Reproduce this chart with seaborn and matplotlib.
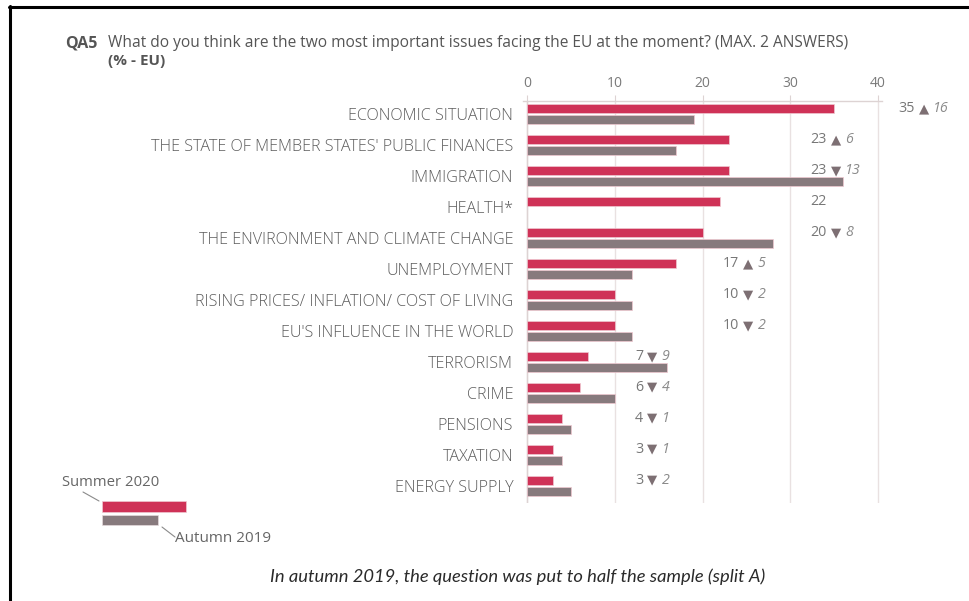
import numpy as np
import pandas as pd
import matplotlib
matplotlib.use("Agg")
import matplotlib.pyplot as plt
from matplotlib.lines import Line2D
from matplotlib.patches import Rectangle
import seaborn as sns

# ---------------- data ----------------
categories = [
    "ECONOMIC SITUATION",
    "THE STATE OF MEMBER STATES' PUBLIC FINANCES",
    "IMMIGRATION",
    "HEALTH*",
    "THE ENVIRONMENT AND CLIMATE CHANGE",
    "UNEMPLOYMENT",
    "RISING PRICES/ INFLATION/ COST OF LIVING",
    "EU'S INFLUENCE IN THE WORLD",
    "TERRORISM",
    "CRIME",
    "PENSIONS",
    "TAXATION",
    "ENERGY SUPPLY",
]
summer_2020 = [35, 23, 23, 22, 20, 17, 10, 10, 7, 6, 4, 3, 3]
autumn_2019 = [19, 17, 36, np.nan, 28, 12, 12, 12, 16, 10, 5, 4, 5]
diff_dir = ["up", "up", "down", None, "down", "up", "down", "down", "down", "down", "down", "down", "down"]
diff_val = [16, 6, 13, None, 8, 5, 2, 2, 9, 4, 1, 1, 2]
x_ticks = [0, 10, 20, 30, 40]
series_names = ["Summer 2020", "Autumn 2019"]

RED = "#cf3257"
GREY = "#877a7d"
TXT = "#5c5c5c"
GRID = "#e9e1e1"

df = pd.DataFrame({
    "category": categories * 2,
    "period": [series_names[0]] * len(categories) + [series_names[1]] * len(categories),
    "value": list(summer_2020) + list(autumn_2019),
})

sns.set_theme(style="white")
plt.rcParams["font.family"] = ["Open Sans", "DejaVu Sans"]

W, H = 969, 601
fig = plt.figure(figsize=(W / 100, H / 100), dpi=100)

def fx(x):
    return x / W

def fy(y):
    return 1 - y / H

# axes: x=0 at px 527, x=40 at px 878 ; top px 101, bottom px 503
ppu = (878 - 527) / 40.0
xl0, xl1 = -0.5, 40.5
left_px = 527 + xl0 * ppu
right_px = 527 + xl1 * ppu
top_px, bot_px = 101, 503
ax = fig.add_axes([fx(left_px), fy(bot_px), (right_px - left_px) / W, (bot_px - top_px) / H])

sns.barplot(data=df, y="category", x="value", hue="period", orient="h",
            hue_order=series_names, palette={series_names[0]: RED, series_names[1]: GREY},
            width=0.7, gap=0.2, errorbar=None, ax=ax, legend=False, saturation=1,
            edgecolor="#f0c8d1", linewidth=0.5, zorder=3)

step = 30.98
c0 = 114.0
ax.set_xlim(xl0, xl1)
ax.set_ylim(12 + (bot_px - (c0 + 12 * step)) / step, -(c0 - top_px) / step)

ax.set_xticks(x_ticks)
ax.set_xticklabels([str(t) for t in x_ticks])
ax.xaxis.tick_top()
ax.tick_params(axis="x", top=True, bottom=False, length=4, width=0.8, color="#ddd3d3",
               pad=3.5, labelsize=10, labelcolor="#7a7a7a")
ax.tick_params(axis="y", left=False, pad=0.8, labelsize=11.6, labelcolor=TXT)
for lab in ax.get_yticklabels():
    lab.set_fontweight("light")
ax.set_xlabel("")
ax.set_ylabel("")
for side in ["right", "bottom", "left"]:
    ax.spines[side].set_visible(False)
ax.spines["top"].set_color("#ddd3d3")
ax.spines["top"].set_linewidth(1.0)
ax.grid(axis="x", color=GRID, linewidth=1.0, zorder=0)
ax.grid(axis="y", visible=False)
ax.axvline(0, color="#ddd3d3", linewidth=1.0, zorder=1)

# value labels
off = 0.175
for i, v in enumerate(summer_2020):
    lx = np.floor(v / 10) * 10 + 12.3
    ly = i - off
    t1 = ax.text(lx, ly, str(v), va="center", ha="left", fontsize=10.3, color="#777777")
    if diff_dir[i] is not None:
        sym = "\u25B2" if diff_dir[i] == "up" else "\u25BC"
        t2 = ax.annotate(sym, xy=(1, 0.5), xycoords=t1, xytext=(3, 0), textcoords="offset points",
                         va="center", ha="left", fontsize=9.5, color="#7d6f73",
                         family=["DejaVu Sans"])
        ax.annotate(str(diff_val[i]), xy=(1, 0.5), xycoords=t2, xytext=(3, 0),
                    textcoords="offset points", va="center", ha="left", fontsize=10.3,
                    color="#8a8a8a", style="italic")

# title
fig.text(fx(65), fy(43), "QA5", fontsize=11.5, fontweight="bold", color="#555555", va="center", ha="left")
fig.text(fx(108), fy(43), "What do you think are the two most important issues facing the EU at the moment? (MAX. 2 ANSWERS)",
         fontsize=11.2, color="#555555", va="center", ha="left")
fig.text(fx(108), fy(61), "(% - EU)", fontsize=11, fontweight="bold", color="#555555", va="center", ha="left")

# legend
fig.patches.append(Rectangle((fx(102), fy(512)), fx(186) - fx(102), fy(500.5) - fy(512),
                             transform=fig.transFigure, facecolor=RED, edgecolor="#f0c8d1", linewidth=0.5))
fig.patches.append(Rectangle((fx(102), fy(525)), fx(158) - fx(102), fy(515) - fy(525),
                             transform=fig.transFigure, facecolor=GREY, edgecolor="#e5dadc", linewidth=0.5))
fig.lines.append(Line2D([fx(83), fx(99)], [fy(492), fy(501)], transform=fig.transFigure, color="#8a8a8a", linewidth=0.8))
fig.lines.append(Line2D([fx(162), fx(175)], [fy(527), fy(537)], transform=fig.transFigure, color="#8a8a8a", linewidth=0.8))
fig.text(fx(62), fy(483), series_names[0], fontsize=10.7, color="#666666", va="center", ha="left")
fig.text(fx(175), fy(539), series_names[1], fontsize=11, color="#666666", va="center", ha="left")

# footnote
fig.text(fx(518), fy(577), "In autumn 2019, the question was put to half the sample (split A)",
         fontsize=13.2, style="italic", color="#2a2a2a", va="center", ha="center", family=["Lato", "DejaVu Sans"])

# frame
fig.lines.append(Line2D([fx(9), fx(969)], [fy(7), fy(7)], transform=fig.transFigure, color="black", linewidth=2.2))
fig.lines.append(Line2D([fx(10), fx(10)], [fy(6), fy(601)], transform=fig.transFigure, color="black", linewidth=2.2))

fig.savefig("out.png", dpi=100, facecolor="white")
